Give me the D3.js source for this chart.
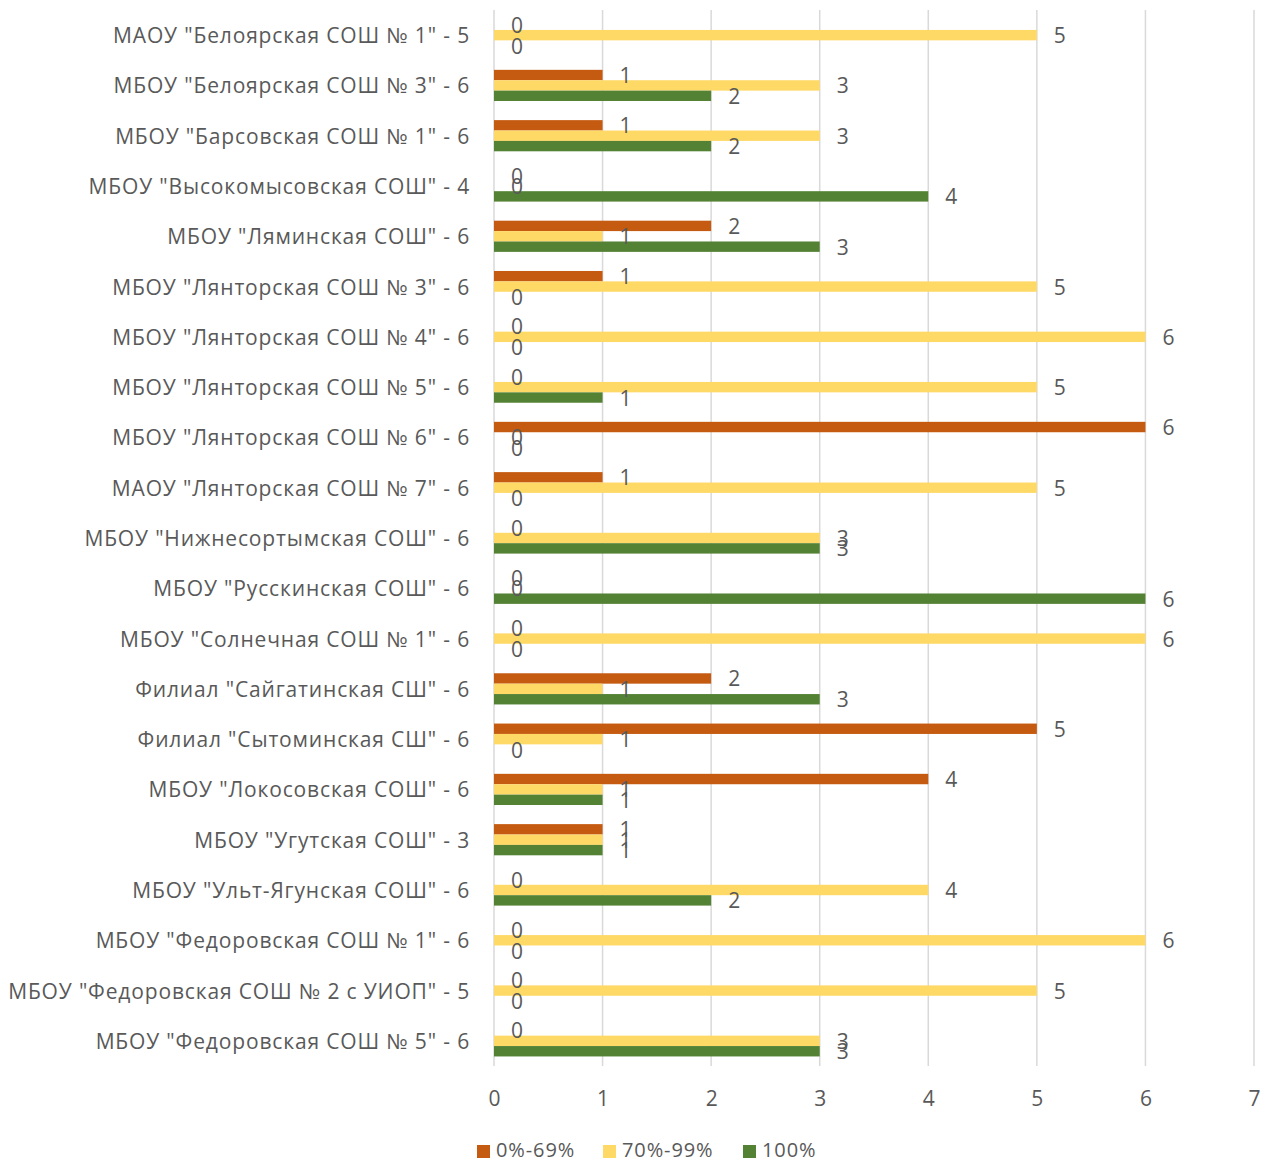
<!DOCTYPE html>
<html>
<head>
<meta charset="utf-8">
<script src="https://cdn.jsdelivr.net/npm/d3@7"></script>
<style>
  html, body { margin: 0; padding: 0; background: #fff; }
  svg text { font-family: "Open Sans", "Noto Sans", sans-serif; fill: #595959; }
</style>
</head>
<body>
<svg id="chart" width="1264" height="1161"></svg>
<script>
const categories = [
  'МАОУ "Белоярская СОШ № 1" - 5',
  'МБОУ "Белоярская СОШ № 3" - 6',
  'МБОУ "Барсовская СОШ № 1" - 6',
  'МБОУ "Высокомысовская СОШ" - 4',
  'МБОУ "Ляминская СОШ" - 6',
  'МБОУ "Лянторская СОШ № 3" - 6',
  'МБОУ "Лянторская СОШ № 4" - 6',
  'МБОУ "Лянторская СОШ № 5" - 6',
  'МБОУ "Лянторская СОШ № 6" - 6',
  'МАОУ "Лянторская СОШ № 7" - 6',
  'МБОУ "Нижнесортымская СОШ" - 6',
  'МБОУ "Русскинская СОШ" - 6',
  'МБОУ "Солнечная СОШ № 1" - 6',
  'Филиал "Сайгатинская СШ" - 6',
  'Филиал "Сытоминская СШ" - 6',
  'МБОУ "Локосовская СОШ" - 6',
  'МБОУ "Угутская СОШ" - 3',
  'МБОУ "Ульт-Ягунская СОШ" - 6',
  'МБОУ "Федоровская СОШ № 1" - 6',
  'МБОУ "Федоровская СОШ № 2 с УИОП" - 5',
  'МБОУ "Федоровская СОШ № 5" - 6'
];
const seriesNames = ["0%-69%", "70%-99%", "100%"];
const low  = [0,1,1,0,2,1,0,0,6,1,0,0,0,2,5,4,1,0,0,0,0];
const mid  = [5,3,3,0,1,5,6,5,0,5,3,0,6,1,1,1,1,4,6,5,3];
const full = [0,2,2,4,3,0,0,1,0,0,3,6,0,3,0,1,1,2,0,0,3];
const xTicks = [0,1,2,3,4,5,6,7];
const colors = ["#C55A11", "#FFD966", "#548235"];

const seriesValues = [low, mid, full];
const svg = d3.select("#chart");
const pLeft = 494, pRight = 1254, pTop = 10, pBottom = 1066;
const fs = 21;

const x = d3.scaleLinear().domain([0, 7]).range([pLeft, pRight]);
const y = d3.scaleBand().domain(categories).range([pTop, pBottom]).paddingInner(0.38).paddingOuter(0.19);
const ySub = d3.scaleBand().domain(seriesNames).range([0, y.bandwidth()]);

// gridlines
svg.append("g").selectAll("line").data(xTicks).join("line")
  .attr("x1", d => x(d)).attr("x2", d => x(d))
  .attr("y1", pTop).attr("y2", pBottom)
  .attr("stroke", "#d9d9d9").attr("stroke-width", 1.5);

// category labels
svg.append("g").selectAll("text").data(categories).join("text")
  .attr("x", pLeft - 24).attr("y", d => y(d) + y.bandwidth() / 2)
  .attr("text-anchor", "end").attr("dominant-baseline", "central")
  .attr("font-size", fs).attr("letter-spacing", 0.85).text(d => d);

// bars
const rows = [];
seriesValues.forEach((vals, si) => vals.forEach((v, ci) => rows.push({ s: seriesNames[si], si, c: categories[ci], v })));

svg.append("g").selectAll("rect").data(rows).join("rect")
  .attr("x", x(0)).attr("y", d => y(d.c) + ySub(d.s))
  .attr("width", d => x(d.v) - x(0)).attr("height", ySub.bandwidth())
  .attr("fill", d => colors[d.si]);

// value labels
svg.append("g").selectAll("text").data(rows).join("text")
  .attr("x", d => x(d.v) + 17).attr("y", d => y(d.c) + ySub(d.s) + ySub.bandwidth() / 2)
  .attr("dominant-baseline", "central")
  .attr("font-size", fs).text(d => d.v);

// x axis labels
const xAxis = d3.axisBottom(x).tickValues(xTicks).tickFormat(d3.format("d")).tickSize(0).tickPadding(0);
const gx = svg.append("g").attr("transform", `translate(0, ${pBottom + 32})`).call(xAxis);
gx.select(".domain").remove();
gx.selectAll("text").attr("font-size", fs).attr("fill", "#595959")
  .attr("font-family", '"Open Sans", sans-serif').attr("dy", null).attr("dominant-baseline", "central");

// legend
const legendX = [477, 603, 743];
const lg = svg.append("g").selectAll("g").data(seriesNames).join("g")
  .attr("transform", (d, i) => `translate(${legendX[i]}, 1149)`);
lg.append("rect").attr("x", 0).attr("y", -4).attr("width", 13).attr("height", 13)
  .attr("fill", (d, i) => colors[i]);
lg.append("text").attr("x", 19).attr("y", 0).attr("dominant-baseline", "central")
  .attr("font-size", 20).attr("letter-spacing", 0.9).text(d => d);
</script>
</body>
</html>
